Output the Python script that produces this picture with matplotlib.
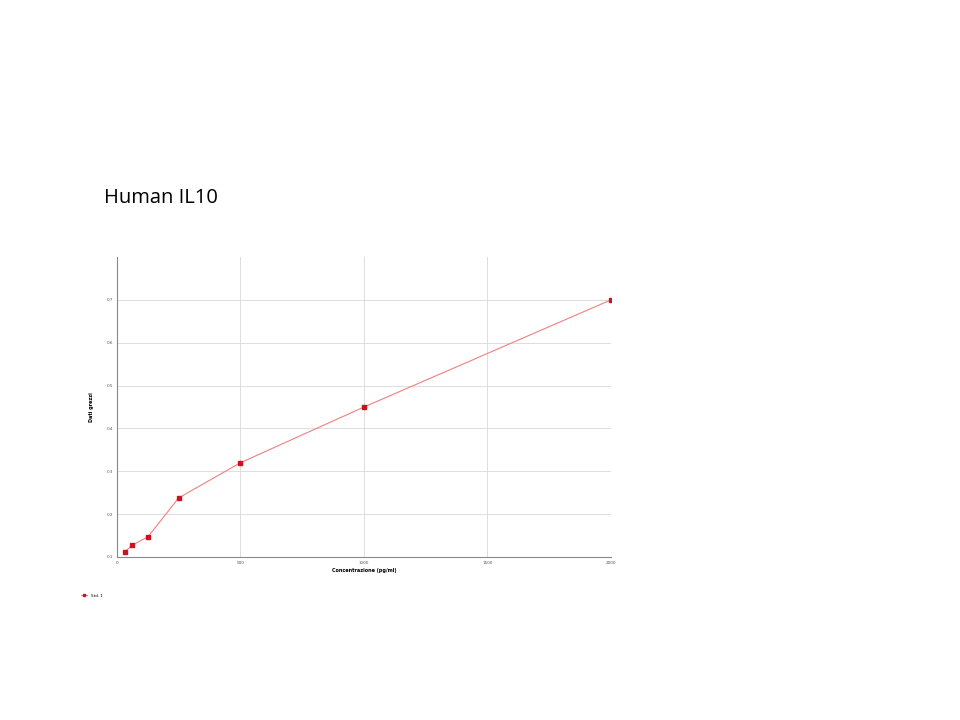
import matplotlib.pyplot as plt

# standard curve, Human IL10
conc = [31.25, 62.5, 125, 250, 500, 1000, 2000]
raw = [0.112, 0.128, 0.147, 0.238, 0.320, 0.450, 0.700]
xticks = [0, 500, 1000, 1500, 2000]
yticks = [0.1, 0.2, 0.3, 0.4, 0.5, 0.6, 0.7]

fig = plt.figure(figsize=(9.6, 7.2), dpi=100)
fig.text(104 / 960, 1 - 198 / 720, 'Human IL10', fontsize=14.5, family='Open Sans',
         va='center', ha='left', color='black')

ax = fig.add_axes([117 / 960, 1 - 557 / 720, (611 - 117) / 960, (557 - 257) / 720])
ax.plot(conc, raw, color='#f08080', lw=0.8, marker='s', ms=2.6,
        mfc='#d01020', mec='#d01020', label='Std. 1')
ax.set_xlim(0, 2000)
ax.set_ylim(0.1, 0.8)
ax.set_xticks(xticks)
ax.set_yticks(yticks)
ax.set_xticklabels([str(t) for t in xticks])
ax.set_yticklabels([f'{t:.1f}' for t in yticks])
ax.tick_params(labelsize=3, length=0, pad=3, colors='#555555')
ax.grid(True, color='#dddddd', lw=0.7)
ax.set_axisbelow(True)
for s in ['top', 'right']:
    ax.spines[s].set_visible(False)
for s in ['left', 'bottom']:
    ax.spines[s].set_color('#888888')
    ax.spines[s].set_linewidth(0.8)
ax.set_xlabel('Concentrazione (pg/ml)', fontsize=3.5, fontweight='bold', labelpad=2)
ax.set_ylabel('Dati grezzi', fontsize=3.5, fontweight='bold', labelpad=9)

ax.legend(loc='upper left', bbox_to_anchor=(-0.08, -0.11), frameon=False,
          fontsize=3, handlelength=1.5, markerscale=0.6)

fig.savefig('out.png', dpi=100)
